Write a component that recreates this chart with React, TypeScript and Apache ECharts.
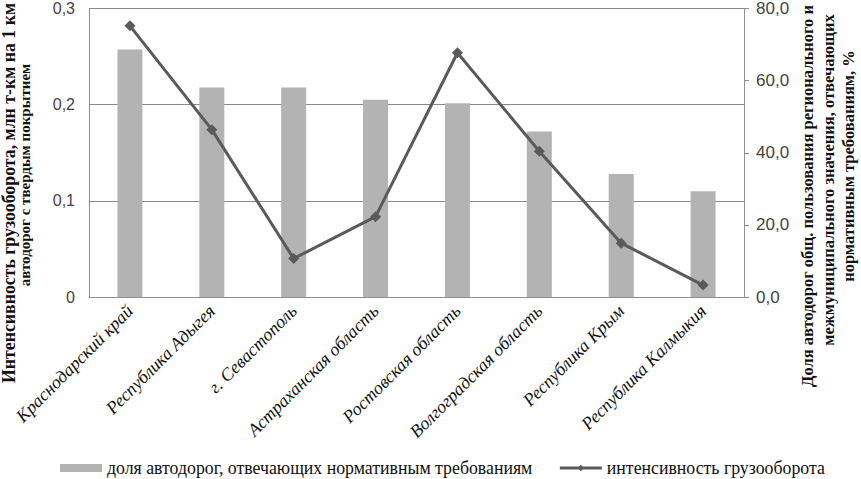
import React, { useEffect, useRef } from "react";
import * as echarts from "echarts";

const categories = [
  "Краснодарский край",
  "Республика Адыгея",
  "г. Севастополь",
  "Астраханская область",
  "Ростовская область",
  "Волгоградская область",
  "Республика Крым",
  "Республика Калмыкия",
];
const shareValues = [68.6, 58.1, 58.1, 54.7, 53.7, 45.9, 34.1, 29.3];
const intensityValues = [0.282, 0.174, 0.04, 0.0835, 0.254, 0.1515, 0.056, 0.0124];
const barName = "доля автодорог, отвечающих нормативным требованиям";
const lineName = "интенсивность грузооборота";
const leftTitle = ["Интенсивность грузооборота, млн т-км на 1 км", "автодорог с твердым покрытием"];
const rightTitle = [
  "Доля автодорог общ. пользования регионального и",
  "межмуниципального значения, отвечающих",
  "нормативным требованиям, %",
];

const SERIF = "Liberation Serif";
const SANS = "Liberation Sans";

export default function App() {
  const ref = useRef<HTMLDivElement>(null);
  useEffect(() => {
    if (!ref.current) return;
    const chart = echarts.init(ref.current, null, { renderer: "svg" });
    const leftStyle = { fontFamily: SERIF, fontSize: 17.8, fontWeight: "bold", fill: "#111", align: "center", verticalAlign: "middle" };
    const rightStyle = { fontFamily: SERIF, fontSize: 16.5, fontWeight: "bold", fill: "#111", align: "center", verticalAlign: "middle" };
    chart.setOption({
      animation: false,
      backgroundColor: "#ffffff",
      grid: { left: 89, right: 117, top: 5, bottom: 182, containLabel: false },
      legend: {
        left: 60,
        top: 459,
        padding: 0,
        itemWidth: 42,
        itemHeight: 8,
        itemGap: 26,
        textStyle: { fontFamily: SERIF, fontSize: 17.8, color: "#111" },
        data: [
          { name: barName, icon: "rect" },
          { name: lineName, lineStyle: { width: 3, color: "#5a5a5a" }, itemStyle: { color: "#5a5a5a" } },
        ],
      },
      xAxis: {
        type: "category",
        data: categories,
        axisLine: { show: true, lineStyle: { color: "#909090", width: 1 } },
        axisTick: { show: false },
        axisLabel: { rotate: 45, margin: 11, interval: 0, fontFamily: SERIF, fontStyle: "italic", fontSize: 18, color: "#111" },
      },
      yAxis: [
        {
          type: "value",
          min: 0,
          max: 0.3,
          interval: 0.1,
          position: "left",
          axisLine: { show: true, lineStyle: { color: "#909090" } },
          axisTick: { show: false },
          splitLine: { show: true, lineStyle: { color: "#8a8a8a" } },
          axisLabel: {
            margin: 14,
            fontFamily: SANS,
            fontSize: 16,
            color: "#444",
            formatter: (v: number) => (v === 0 ? "0" : v.toFixed(1).replace(".", ",")),
          },
        },
        {
          type: "value",
          min: 0,
          max: 80,
          interval: 20,
          position: "right",
          axisLine: { show: true, lineStyle: { color: "#909090" } },
          axisTick: { show: true, inside: false, length: 5, lineStyle: { color: "#909090" } },
          splitLine: { show: false },
          axisLabel: {
            margin: 12,
            fontFamily: SANS,
            fontSize: 17,
            color: "#444",
            formatter: (v: number) => v.toFixed(1).replace(".", ","),
          },
        },
      ],
      series: [
        {
          name: barName,
          type: "bar",
          yAxisIndex: 1,
          data: shareValues,
          barWidth: 25,
          itemStyle: { color: "#b3b3b3" },
        },
        {
          name: lineName,
          type: "line",
          yAxisIndex: 0,
          data: intensityValues,
          symbol: "diamond",
          symbolSize: 11,
          lineStyle: { color: "#5a5a5a", width: 3 },
          itemStyle: { color: "#5a5a5a" },
        },
      ],
      graphic: [
        { type: "text", x: 9, y: 193, rotation: Math.PI / 2, style: { ...leftStyle, text: leftTitle[0] } },
        { type: "text", x: 25, y: 175, rotation: Math.PI / 2, style: { ...leftStyle, fontSize: 15, text: leftTitle[1] } },
        { type: "text", x: 807, y: 196, rotation: Math.PI / 2, style: { ...rightStyle, text: rightTitle[0] } },
        { type: "text", x: 828, y: 180, rotation: Math.PI / 2, style: { ...rightStyle, text: rightTitle[1] } },
        { type: "text", x: 848, y: 166, rotation: Math.PI / 2, style: { ...rightStyle, text: rightTitle[2] } },
      ],
    });
    return () => chart.dispose();
  }, []);
  return <div ref={ref} style={{ width: 861, height: 479, position: "absolute", left: 0, top: 0 }} />;
}
